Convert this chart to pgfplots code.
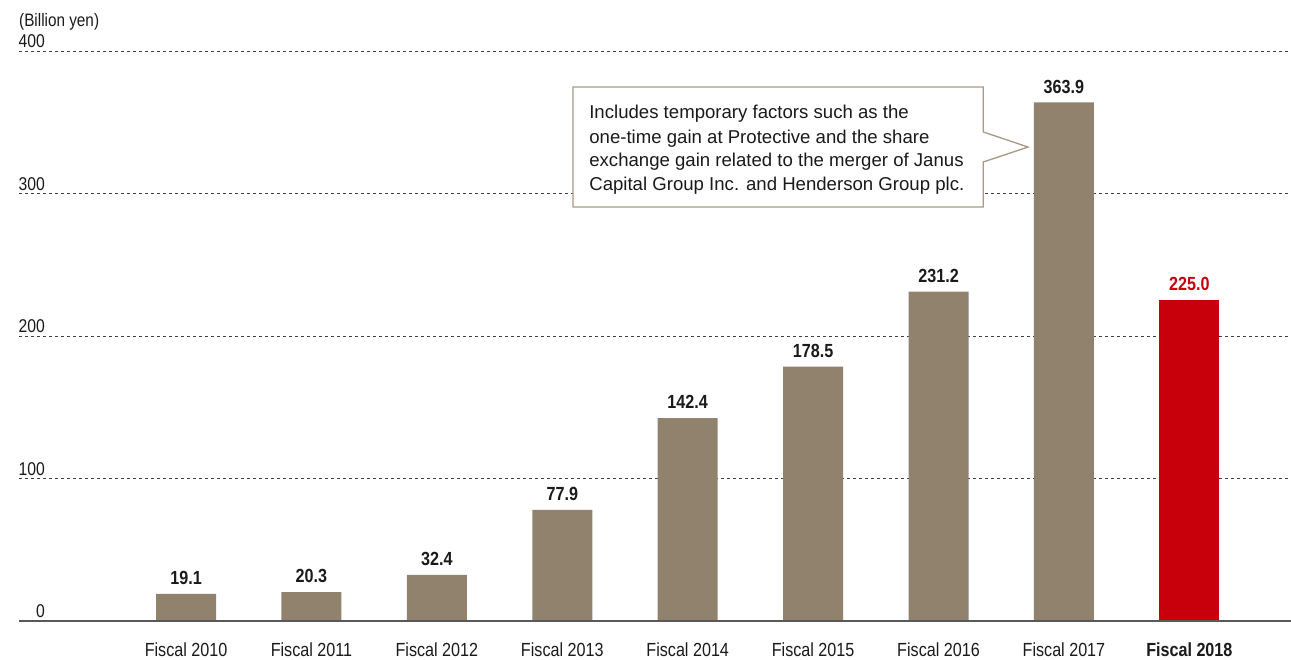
\documentclass[border=0pt]{standalone}
\usepackage{pgfplots}
\pgfplotsset{compat=1.18}
\usepackage{fontspec}
\setmainfont{Liberation Sans}
\newfontfamily\narrow[FakeStretch=0.85]{Liberation Sans}
\definecolor{barbrown}{HTML}{91826E}
\definecolor{barred}{HTML}{C8000B}
\definecolor{boxline}{HTML}{A89A88}
\definecolor{txt}{HTML}{1A1A1A}
\begin{document}
\begin{tikzpicture}
\useasboundingbox (0,0) rectangle (1291pt,659pt);
\begin{axis}[
  at={(19pt,38pt)}, anchor=south west,
  scale only axis,
  width=1272pt, height=570pt,
  xmin=-1.332, xmax=8.81,
  ymin=0, ymax=400,
  clip=false,
  ybar, bar shift=0pt, bar width=60pt,
  axis line style={draw=none},
  tick style={draw=none},
  xtick={0,1,2,3,4,5,6,7,8},
  xticklabels={Fiscal 2010,Fiscal 2011,Fiscal 2012,Fiscal 2013,Fiscal 2014,Fiscal 2015,Fiscal 2016,Fiscal 2017,\textbf{Fiscal 2018}},
  xticklabel style={font=\narrow\fontsize{19}{22}\selectfont, text=txt, anchor=north, inner sep=0pt, yshift=-17pt},
  ytick={0,100,200,300,400},
  yticklabels={0,100,200,300,400},
  yticklabel style={font=\narrow\fontsize{18.5}{22}\selectfont, text=txt, anchor=south east, inner sep=0pt, xshift=26pt, yshift=3pt},
  ymajorgrids,
  major grid style={dash pattern=on 3pt off 3pt, color=black!75, line width=0.9pt},
  nodes near coords={\pgfmathprintnumber[fixed,fixed zerofill,precision=1,assume math mode=true]{\pgfplotspointmeta}},
  nodes near coords style={font=\narrow\bfseries\fontsize{19}{22}\selectfont, anchor=south, inner sep=0pt, yshift=9pt},
]
\addplot[fill=barbrown, draw=none, nodes near coords style={text=txt}] coordinates {
  (0,19.1) (1,20.3) (2,32.4) (3,77.9) (4,142.4) (5,178.5) (6,231.2) (7,363.9)};
\addplot[fill=barred, draw=none, nodes near coords style={text=barred}] coordinates {(8,225.0)};
\draw[color=black!65, line width=1.4pt] (axis cs:-1.332,0) -- (axis cs:8.81,0);
\node[anchor=base west, inner sep=0pt, font=\narrow\fontsize{18}{22}\selectfont, text=txt] at (axis cs:-1.332,417.5) {(Billion yen)};
\draw[boxline, line width=1.3pt, fill=white] (axis cs:3.086,374.7) -- (axis cs:6.356,374.7) -- (axis cs:6.356,343.2) -- (axis cs:6.714,332.6) -- (axis cs:6.356,322.1) -- (axis cs:6.356,290.5) -- (axis cs:3.086,290.5) -- cycle;
\begin{scope}[every node/.style={anchor=base west, inner sep=0pt, font=\fontsize{18.6}{24}\selectfont, text=txt}]
\node at (axis cs:3.214,352.3) {Includes temporary factors such as the};
\node at (axis cs:3.214,335.4) {one-time gain at Protective and the share};
\node at (axis cs:3.214,318.6) {exchange gain related to the merger of Janus};
\node at (axis cs:3.214,301.8) {Capital Group Inc. and Henderson Group plc.};
\end{scope}
\end{axis}
\end{tikzpicture}
\end{document}
